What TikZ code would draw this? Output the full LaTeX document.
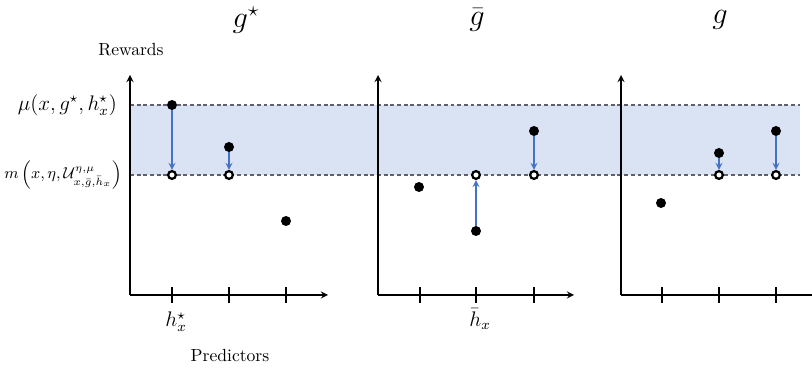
\documentclass[tikz,border=0pt]{standalone}
\usepackage{amsmath,amssymb}
\definecolor{bandblue}{RGB}{218,227,243}
\definecolor{arrowblue}{RGB}{68,114,196}
\definecolor{dashgray}{RGB}{95,95,110}
\begin{document}
\begin{tikzpicture}[x=0.2mm, y=-0.2mm,
    axis/.style={->, >=stealth, thick},
    tick/.style={thick},
    level/.style={dashgray, line width=0.7pt, dash pattern=on 2.2pt off 1.6pt},
    dot/.style={circle, fill=black, inner sep=0pt, minimum size=2mm},
    ring/.style={circle, draw=black, line width=1.3pt, fill=white, inner sep=0pt, minimum size=1.55mm},
    gap/.style={->, >=stealth, arrowblue, thick},
    title/.style={font=\LARGE},
    lbl/.style={font=\large}
]
\useasboundingbox (0,0) rectangle (812,372);

% Band between the two levels
\fill[bandblue] (130,105) rectangle (800,175);
\coordinate (muL) at (130,105);
\coordinate (muR) at (800,105);
\coordinate (mL) at (130,175);
\coordinate (mR) at (800,175);
\draw[level] (muL) -- (muR);
\draw[level] (mL) -- (mR);

% Level labels
\node[lbl, anchor=east] (mulbl) at (123,105) {$\mu(x,g^\star,h^\star_x)$};
\node[font=\small, anchor=east] (mlbl) at (128,175) {$m\left(x,\eta,\mathcal{U}^{\eta,\mu}_{x,\bar g,\bar h_x}\right)$};

% Titles
\node[title] (t1) at (246,20) {$g^\star$};
\node[title] (t2) at (477,20) {$\bar g$};
\node[title] (t3) at (720,20) {$g$};

% Axes
\coordinate (o1) at (130,295);
\coordinate (y1) at (130,75);
\coordinate (x1) at (328,295);
\coordinate (o2) at (378,295);
\coordinate (y2) at (378,75);
\coordinate (x2) at (574,295);
\coordinate (o3) at (621,295);
\coordinate (y3) at (621,75);
\coordinate (x3) at (812,295);
\draw[axis] (o1) -- (y1);
\draw[axis] (o1) -- (x1);
\draw[axis] (o2) -- (y2);
\draw[axis] (o2) -- (x2);
\draw[axis] (o3) -- (y3);
\draw[thick] (o3) -- (x3);

% Ticks
\foreach \t in {172,229,286,420,476,534,662,719,776}
    \draw[tick] (\t,287) -- (\t,303);

% Axis labels
\node (rewards) at (131,50) {Rewards};
\node (predictors) at (230,356) {Predictors};
\node[lbl] (hstar) at (176,322) {$h^\star_x$};
\node[lbl] (hbar) at (480,319) {$\bar h_x$};

% Panel 1
\node[dot] (a1) at (172,105) {};
\node[ring] (b1) at (172,175) {};
\node[dot] (a2) at (229,147) {};
\node[ring] (b2) at (229,175) {};
\node[dot] (a3) at (286,221) {};
\draw[gap] (a1) -- (b1);
\draw[gap] (a2) -- (b2);

% Panel 2
\node[dot] (c1) at (419,187) {};
\node[dot] (c2) at (476,231) {};
\node[ring] (d2) at (476,175) {};
\node[dot] (c3) at (534,131) {};
\node[ring] (d3) at (534,175) {};
\draw[gap] (c2) -- (d2);
\draw[gap] (c3) -- (d3);

% Panel 3
\node[dot] (e1) at (661,203) {};
\node[dot] (e2) at (719,153) {};
\node[ring] (f2) at (719,175) {};
\node[dot] (e3) at (776,131) {};
\node[ring] (f3) at (776,175) {};
\draw[gap] (e2) -- (f2);
\draw[gap] (e3) -- (f3);

\end{tikzpicture}
\end{document}
